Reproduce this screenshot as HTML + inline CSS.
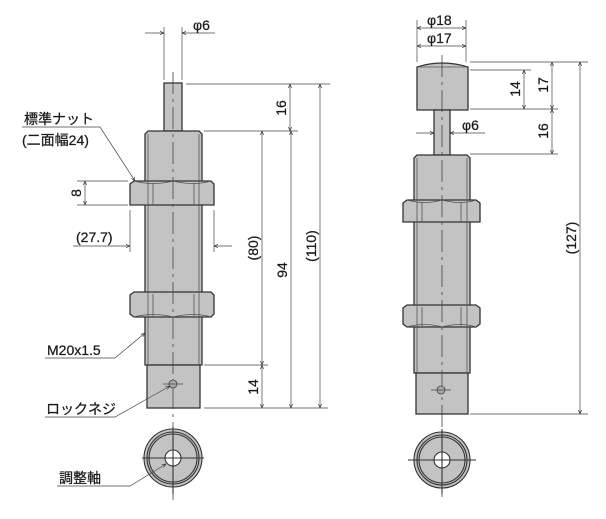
<!DOCTYPE html>
<html><head><meta charset="utf-8"><style>
html,body{margin:0;padding:0;background:#fff;}
svg{display:block;}
text{font-family:"Liberation Sans","Noto Sans CJK JP",sans-serif;fill:#1a1a1a;}
</style></head><body>
<svg width="606" height="519" viewBox="0 0 606 519" xmlns="http://www.w3.org/2000/svg">
<defs>
<marker id="a" viewBox="0 0 10 10" refX="10" refY="5" markerWidth="6" markerHeight="6" orient="auto-start-reverse"><path d="M0,1 L10,5 L0,9" fill="none" stroke="#333" stroke-width="1.5"/></marker>
</defs>
<g stroke="#333" stroke-width="1.3" fill="#c3c3c3">
<rect x="164" y="83" width="18" height="48"/>
<path d="M145,134 L148,131 L199,131 L202,134 L202,365 L145,365 Z"/>
<rect x="147" y="365" width="53" height="43"/>
<path d="M130,184 L134,181 L211,181 L214,184 L214,205 L130,205 Z"/>
<path d="M130,295 L134,292 L211,292 L214,295 L214,314 L211,317 L134,317 L130,314 Z"/>
<path d="M417,67 Q442,59 468,67 L468,110 L417,110 Z"/>
<rect x="434" y="110" width="16" height="45"/>
<path d="M414,158 L417,155 L467,155 L470,158 L470,373 L414,373 Z"/>
<rect x="416" y="373" width="52" height="41"/>
<path d="M403,203 L407,200 L476,200 L480,203 L480,222 L403,222 Z"/>
<path d="M403,308 L407,305 L476,305 L480,308 L480,324 L476,327 L407,327 L403,324 Z"/>
</g>
<g stroke="#555" stroke-width="0.8" fill="none">
<line x1="153" y1="183" x2="153" y2="205"/><line x1="194" y1="183" x2="194" y2="205"/>
<path d="M134,181 Q153,186 173,181 Q194,186 211,181"/>
<line x1="153" y1="294" x2="153" y2="316"/><line x1="194" y1="294" x2="194" y2="316"/>
<path d="M134,317 Q153,312 173,317 Q194,312 211,317"/>
<line x1="422" y1="202" x2="422" y2="222"/><line x1="461" y1="202" x2="461" y2="222"/>
<path d="M407,200 Q424,205 442,200 Q461,205 476,200"/>
<line x1="422" y1="307" x2="422" y2="327"/><line x1="461" y1="307" x2="461" y2="327"/>
<path d="M407,327 Q424,322 442,327 Q461,322 476,327"/>
<line x1="417" y1="67" x2="468" y2="67"/>
<line x1="148" y1="134" x2="148" y2="365"/><line x1="199" y1="134" x2="199" y2="365"/>
<line x1="417" y1="158" x2="417" y2="373"/><line x1="467" y1="158" x2="467" y2="373"/>
</g>
<g stroke="#444" stroke-width="0.8" stroke-dasharray="22,5,3,5" fill="none">
<line x1="173" y1="72" x2="173" y2="500"/>
<line x1="442" y1="55" x2="442" y2="500"/>
</g>
<g stroke="#444" fill="#aaa" stroke-width="0.8">
<circle cx="173" cy="384" r="4"/><line x1="163" y1="384" x2="183" y2="384"/>
<circle cx="441" cy="390" r="4"/><line x1="431" y1="390" x2="451" y2="390"/>
</g>
<g stroke="#333" stroke-width="1.1">
<circle cx="173" cy="458" r="29" fill="#c3c3c3"/>
<circle cx="173" cy="458" r="26" fill="none"/>
<circle cx="173" cy="458" r="24" fill="none"/>
<circle cx="173" cy="458" r="8" fill="#fff"/>
<line x1="142" y1="458" x2="204" y2="458"/><line x1="173" y1="427" x2="173" y2="494"/>
<circle cx="442" cy="460" r="28" fill="#c3c3c3"/>
<circle cx="442" cy="460" r="25" fill="none"/>
<circle cx="442" cy="460" r="23" fill="none"/>
<circle cx="442" cy="460" r="8" fill="#fff"/>
<line x1="408" y1="460" x2="476" y2="460"/><line x1="442" y1="429" x2="442" y2="494"/>
</g>
<g stroke="#444" stroke-width="0.7" fill="none">
<line x1="186" y1="84" x2="330" y2="84"/>
<line x1="204" y1="131" x2="298" y2="131"/>
<line x1="204" y1="365" x2="268" y2="365"/>
<line x1="204" y1="408" x2="328" y2="408"/>
<line x1="164" y1="27" x2="164" y2="80"/><line x1="182" y1="27" x2="182" y2="80"/>
<line x1="77" y1="181" x2="128" y2="181"/><line x1="77" y1="205" x2="128" y2="205"/>
<line x1="130" y1="210" x2="130" y2="252"/><line x1="214" y1="210" x2="214" y2="252"/>
<line x1="145" y1="33" x2="164" y2="33" marker-end="url(#a)"/>
<line x1="215" y1="33" x2="182" y2="33" marker-end="url(#a)"/>
<line x1="290" y1="84" x2="290" y2="131" marker-start="url(#a)" marker-end="url(#a)"/>
<line x1="320" y1="84" x2="320" y2="408" marker-start="url(#a)" marker-end="url(#a)"/>
<line x1="262" y1="131" x2="262" y2="365" marker-start="url(#a)" marker-end="url(#a)"/>
<line x1="291" y1="131" x2="291" y2="408" marker-start="url(#a)" marker-end="url(#a)"/>
<line x1="262" y1="365" x2="262" y2="408" marker-start="url(#a)" marker-end="url(#a)"/>
<line x1="85" y1="181" x2="85" y2="205" marker-start="url(#a)" marker-end="url(#a)"/>
<line x1="73" y1="246" x2="130" y2="246" marker-end="url(#a)"/>
<line x1="232" y1="246" x2="214" y2="246" marker-end="url(#a)"/>
<polyline points="22,127 100,127 135,181" marker-end="url(#a)"/>
<polyline points="45,358 115,358 145,333" marker-end="url(#a)"/>
<polyline points="45,417 115,417 170,386" marker-end="url(#a)"/>
<polyline points="57,486 130,486 166,464" marker-end="url(#a)"/>
<line x1="417" y1="20" x2="417" y2="62"/><line x1="466" y1="20" x2="466" y2="62"/>
<line x1="470" y1="62" x2="588" y2="62"/>
<line x1="470" y1="70" x2="531" y2="70"/>
<line x1="470" y1="109" x2="558" y2="109"/>
<line x1="470" y1="154" x2="558" y2="154"/>
<line x1="470" y1="414" x2="588" y2="414"/>
<line x1="417" y1="28" x2="466" y2="28" marker-start="url(#a)" marker-end="url(#a)"/>
<line x1="417" y1="46" x2="466" y2="46" marker-start="url(#a)" marker-end="url(#a)"/>
<line x1="416" y1="133" x2="434" y2="133" marker-end="url(#a)"/>
<line x1="485" y1="133" x2="450" y2="133" marker-end="url(#a)"/>
<line x1="524" y1="70" x2="524" y2="109" marker-start="url(#a)" marker-end="url(#a)"/>
<line x1="552" y1="62" x2="552" y2="109" marker-start="url(#a)" marker-end="url(#a)"/>
<line x1="552" y1="109" x2="552" y2="154" marker-start="url(#a)" marker-end="url(#a)"/>
<line x1="580" y1="62" x2="580" y2="414" marker-start="url(#a)" marker-end="url(#a)"/>
</g>
<g font-size="14" stroke="#1a1a1a" stroke-width="0.25">
<text x="193" y="30">φ6</text>
<text x="24" y="124">標準ナット</text>
<text x="22" y="145">(二面幅24)</text>
<text x="76" y="242">(27.7)</text>
<text x="47" y="355">M20x1.5</text>
<text x="46" y="414">ロックネジ</text>
<text x="59" y="483">調整軸</text>
<text transform="translate(286,108) rotate(-90)" text-anchor="middle">16</text>
<text transform="translate(258,248) rotate(-90)" text-anchor="middle">(80)</text>
<text transform="translate(287,270) rotate(-90)" text-anchor="middle">94</text>
<text transform="translate(316,246) rotate(-90)" text-anchor="middle">(110)</text>
<text transform="translate(258,387) rotate(-90)" text-anchor="middle">14</text>
<text transform="translate(81,193) rotate(-90)" text-anchor="middle">8</text>
<text x="427" y="25">φ18</text>
<text x="427" y="43">φ17</text>
<text x="462" y="130">φ6</text>
<text transform="translate(520,89) rotate(-90)" text-anchor="middle">14</text>
<text transform="translate(548,85) rotate(-90)" text-anchor="middle">17</text>
<text transform="translate(548,131) rotate(-90)" text-anchor="middle">16</text>
<text transform="translate(576,238) rotate(-90)" text-anchor="middle">(127)</text>
</g>
</svg>
</body></html>
